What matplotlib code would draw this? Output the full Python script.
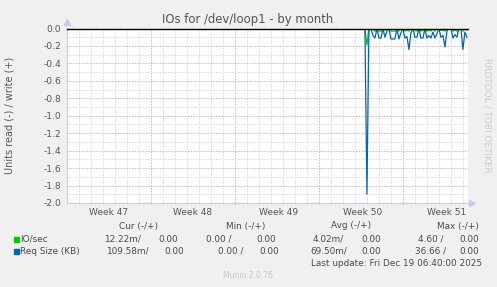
import numpy as np
import matplotlib.pyplot as plt

# time axis in days from left edge of the month view
week_labels = ["Week 47", "Week 48", "Week 49", "Week 50", "Week 51"]
week_label_days = [3.5, 10.5, 17.6, 24.6, 31.6]
week_start_days = [7, 14, 21, 28]

# samples every 4 hours, starting at day 24.83
sample_start = 24.83
sample_step = 1 / 6
req_size = [0, -1.90, 0, 0, -0.08, -0.11, 0, -0.11, -0.11, 0, -0.10, -0.03,
            0, -0.12, -0.12, -0.12, 0, -0.12, -0.05, 0, -0.11, -0.09, -0.24,
            -0.05, 0, -0.10, -0.10, 0, -0.11, -0.11, 0, -0.11, -0.08, -0.11,
            -0.04, -0.11, -0.06, 0, -0.10, -0.08, -0.21, -0.03, 0, 0, -0.11,
            -0.07, -0.10, 0, 0, -0.24, -0.04, -0.10]
io_sec = [0, -0.19, 0, 0, -0.01, -0.03, 0, -0.03, -0.03, 0, -0.02, 0,
          0, -0.03, -0.03, -0.03, 0, -0.03, 0, 0, -0.03, -0.02, -0.03,
          0, 0, -0.02, -0.03, 0, -0.03, -0.02, 0, -0.03, -0.02, -0.03,
          0, -0.03, 0, 0, -0.02, -0.02, -0.03, 0, 0, 0, -0.03,
          -0.02, -0.03, 0, 0, -0.03, 0, -0.02]

legend_names = ["IO/sec", "Req Size (KB)"]
legend_colors = ["#00cc00", "#0066b3"]
cur_vals = [("12.22m/", "0.00"), ("109.58m/", "0.00")]
min_vals = [("0.00 /", "0.00"), ("0.00 /", "0.00")]
avg_vals = [("4.02m/", "0.00"), ("69.50m/", "0.00")]
max_vals = [("4.60 /", "0.00"), ("36.66 /", "0.00")]

W, H = 497, 287
fig = plt.figure(figsize=(W / 100, H / 100), dpi=100)
fig.patch.set_facecolor("#f0f0f0")

left, right, top, bottom = 67, 468, 28.5, 203
ax = fig.add_axes([left / W, 1 - bottom / H, (right - left) / W, (bottom - top) / H])
ax.set_facecolor("white")
ax.set_xlim(0, 33.42)
ax.set_ylim(-2.0, 0.0)

grid_kw = dict(linestyle=(0, (1.4, 1.4)), linewidth=0.72, zorder=1)
for d in range(1, 34):
    if d in week_start_days:
        continue
    ax.axvline(d, color="#d8d8d8", **grid_kw)
for d in week_start_days:
    ax.axvline(d, color="#eeaaaa", **grid_kw)
for k in range(1, 20, 2):
    ax.axhline(-k / 10, color="#d8d8d8", **grid_kw)
for k in range(2, 20, 2):
    ax.axhline(-k / 10, color="#eeaaaa", **grid_kw)

t = sample_start + sample_step * np.arange(len(req_size))
ax.plot(t, io_sec, color=legend_colors[0], lw=0.9, zorder=3)
ax.plot(t, req_size, color=legend_colors[1], lw=0.9, zorder=4)
ax.axhline(0, color="black", lw=1.0, zorder=5, clip_on=False)

for s in ["top", "right"]:
    ax.spines[s].set_visible(False)
for s in ["left", "bottom"]:
    ax.spines[s].set_color("#c8c8f0")
    ax.spines[s].set_linewidth(0.8)
ax.plot([0], [0.07], marker="^", color="#c8c8f0", ms=4, clip_on=False)
ax.plot([33.75], [-2.0], marker=">", color="#c8c8f0", ms=4, clip_on=False)

yt = np.arange(0, -2.01, -0.2)
ax.set_yticks(yt)
ax.set_yticklabels(["0.0"] + [f"{v:.1f}" for v in yt[1:]])
ax.set_xticks(week_start_days)
ax.set_xticklabels([])
ax.set_xticks(range(1, 34), minor=True)
ax.tick_params(axis="y", length=0, pad=4, labelsize=6.6, labelcolor="#555555")
ax.tick_params(axis="x", which="major", length=2, color="#e08080", direction="inout")
ax.tick_params(axis="x", which="minor", length=1.5, color="#c0c0c0", direction="inout")
for d, lab in zip(week_label_days, week_labels):
    ax.text(d, -2.06, lab, ha="center", va="top", fontsize=6.5, color="#555555", clip_on=False)

def fx(px):
    return px / W

def fy(py):
    return 1 - py / H

txt = dict(fontsize=6.4, color="#4a4a4a", va="center")
fig.text(fx(248), fy(19), "IOs for /dev/loop1 - by month", ha="center", fontsize=8.4, color="#555555", va="center")
fig.text(fx(10), fy(115), "Units read (-) / write (+)", rotation=90, ha="center", va="center",
         fontsize=7, color="#555555")
fig.text(fx(487), fy(115), "RRDTOOL / TOBI OETIKER", rotation=270, ha="center", va="center",
         fontsize=6.5, color="#cccccc")

headers = [("Cur (-/+)", 158), ("Min (-/+)", 265), ("Avg (-/+)", 371), ("Max (-/+)", 479)]
for h, x in headers:
    fig.text(fx(x), fy(226), h, ha="right", **txt)

row_y = [239, 251]
col_pos = [[(141, 178), (231, 276), (344, 381), (443, 479)],
           [(149, 184), (243, 279), (347, 381), (446, 479)]]
for i in range(2):
    fig.patches.append(plt.Rectangle((fx(14), fy(row_y[i] + 3)), 5 / W, 5 / H,
                                     transform=fig.transFigure, color=legend_colors[i]))
    fig.text(fx(20), fy(row_y[i]), legend_names[i], ha="left", **txt)
    for vals, (x1, x2) in zip([cur_vals[i], min_vals[i], avg_vals[i], max_vals[i]], col_pos[i]):
        fig.text(fx(x1), fy(row_y[i]), vals[0], ha="right", **txt)
        fig.text(fx(x2), fy(row_y[i]), vals[1], ha="right", **txt)

fig.text(fx(482), fy(263), "Last update: Fri Dec 19 06:40:00 2025", ha="right", **txt)
fig.text(fx(248), fy(276), "Munin 2.0.76", ha="center", va="center", fontsize=5.5, color="#c8c8c8")

fig.savefig("out.png", dpi=100, facecolor=fig.get_facecolor())
